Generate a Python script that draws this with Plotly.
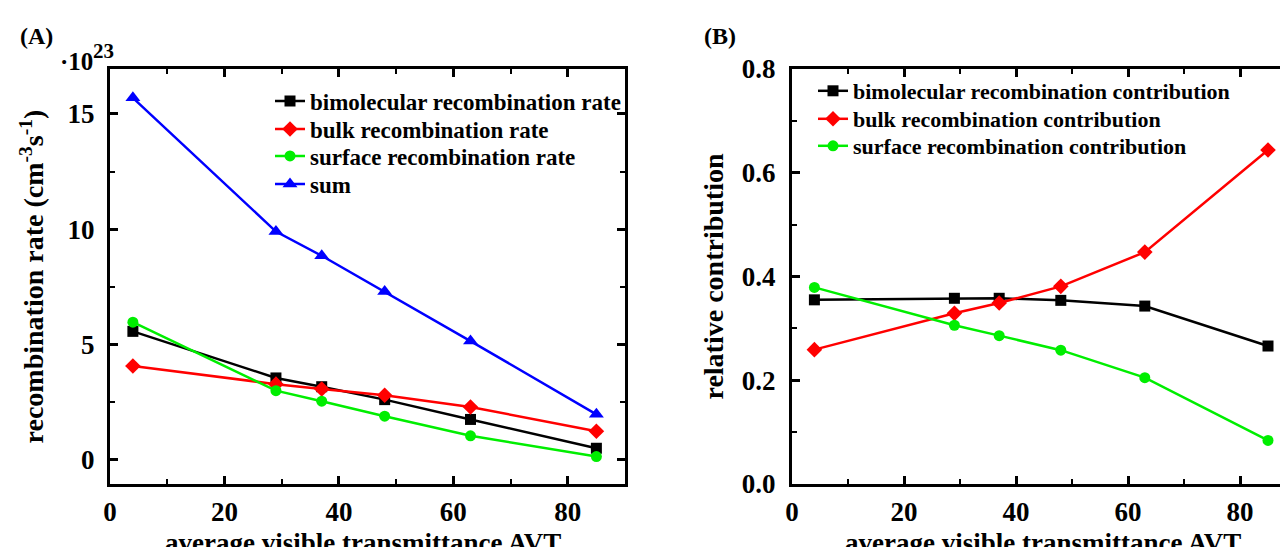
import plotly.graph_objects as go

# ---- data ----
avt = [4, 29, 37, 48, 63, 85]
bimol_rate = [5.57, 3.55, 3.17, 2.61, 1.75, 0.50]
bulk_rate = [4.07, 3.28, 3.07, 2.80, 2.29, 1.24]
surface_rate = [5.97, 3.00, 2.54, 1.89, 1.04, 0.14]
sum_rate = [15.70, 9.90, 8.85, 7.30, 5.15, 1.97]

bimol_frac = [0.355, 0.358, 0.358, 0.354, 0.343, 0.266]
bulk_frac = [0.259, 0.329, 0.349, 0.381, 0.447, 0.644]
surface_frac = [0.379, 0.306, 0.286, 0.258, 0.205, 0.084]

x_ticks = [0, 20, 40, 60, 80]
left_y_ticks = [0, 5, 10, 15]
right_y_ticks = [0.0, 0.2, 0.4, 0.6, 0.8]

x_title = "average visible transmittance AVT"

FONT = "Liberation Serif"
W, H = 1288, 547
MT, MB = 61, 71
PH = H - MT - MB  # plot-area height in px


def py(p):
    """pixel row -> paper y (paper is the margin-inner area)"""
    return 1 - (p - MT) / PH


fig = go.Figure()

legend_layout = {}


def add(x, y, name, color, symbol, size, xa, ya, leg_id, lx, ly, fs):
    fig.add_trace(go.Scatter(
        x=x, y=y, name=name, mode="lines+markers",
        line=dict(color=color, width=2.5),
        marker=dict(color=color, symbol=symbol, size=size),
        xaxis=xa, yaxis=ya, legend=leg_id))
    legend_layout[leg_id] = dict(x=lx / W, y=py(ly), xanchor="left", yanchor="middle",
                                 bgcolor="rgba(0,0,0,0)", borderwidth=0,
                                 font=dict(family=FONT, size=fs, color="black", weight="bold"))


add(avt, bimol_rate, "bimolecular recombination rate", "#000000", "square", 11, "x", "y", "legend", 262, 93, 23)
add(avt, bulk_rate, "bulk recombination rate", "#ff0000", "diamond", 12, "x", "y", "legend2", 262, 121, 23)
add(avt, surface_rate, "surface recombination rate", "#00ee00", "circle", 11, "x", "y", "legend3", 262, 148, 23)
add(avt, sum_rate, "sum", "#0000ff", "triangle-up", 13, "x", "y", "legend4", 262, 176, 23)

add(avt, bimol_frac, "bimolecular recombination contribution", "#000000", "square", 11, "x2", "y2", "legend5", 805, 83, 22)
add(avt, bulk_frac, "bulk recombination contribution", "#ff0000", "diamond", 12, "x2", "y2", "legend6", 805, 111, 22)
add(avt, surface_frac, "surface recombination contribution", "#00ee00", "circle", 11, "x2", "y2", "legend7", 805, 138, 22)

tickfont = dict(family=FONT, size=27, color="black", weight="bold")
xtitlefont = dict(family=FONT, size=27, color="black", weight="bold")
ytitlefont = dict(family=FONT, size=28, color="black", weight="bold")

axis_common = dict(showline=True, linecolor="black", linewidth=3, mirror="ticks",
                   ticks="inside", ticklen=8, tickwidth=2.5, tickcolor="black",
                   showgrid=False, zeroline=False, tickfont=tickfont, automargin=False)

L0, L1 = 102 / W, 617 / W
R0, R1 = 784 / W, 1.0

fig.update_layout(
    width=W, height=H,
    margin=dict(l=0, r=0, t=MT, b=MB),
    paper_bgcolor="white", plot_bgcolor="white",
    showlegend=True,
    xaxis=dict(domain=[L0, L1], range=[0, 90], tickvals=x_ticks, anchor="y", ticklabelstandoff=2,
               minor=dict(ticks="inside", ticklen=5, tickwidth=2, dtick=10, tick0=0, tickcolor="black"),
               **axis_common),
    yaxis=dict(domain=[0, 1], range=[-1.05, 16.95], tickvals=left_y_ticks, anchor="x", ticklabelstandoff=7,
               minor=dict(ticks="inside", ticklen=5, tickwidth=2, dtick=2.5, tick0=0, tickcolor="black"),
               title=dict(text="recombination rate (cm<sup>-3</sup>s<sup>-1</sup>)", font=ytitlefont, standoff=16),
               **axis_common),
    xaxis2=dict(domain=[R0, R1], range=[0, 90], tickvals=x_ticks, anchor="y2", ticklabelstandoff=2,
                minor=dict(ticks="inside", ticklen=5, tickwidth=2, dtick=10, tick0=0, tickcolor="black"),
                **axis_common),
    yaxis2=dict(domain=[0, 1], range=[0, 0.8], tickvals=right_y_ticks, tickformat=".1f", anchor="x2",
                ticklabelstandoff=8,
                minor=dict(ticks="inside", ticklen=5, tickwidth=2, dtick=0.1, tick0=0, tickcolor="black"),
                title=dict(text="relative contribution", font=ytitlefont, standoff=11),
                **axis_common),
    annotations=[
        dict(text=x_title, x=355 / W, y=py(535), xref="paper", yref="paper",
             xanchor="center", yanchor="middle", showarrow=False, font=xtitlefont),
        dict(text=x_title, x=1035 / W, y=py(535), xref="paper", yref="paper",
             xanchor="center", yanchor="middle", showarrow=False, font=xtitlefont),
        dict(text="(A)", x=10 / W, y=py(28), xref="paper", yref="paper",
             xanchor="left", yanchor="middle", showarrow=False,
             font=dict(family=FONT, size=24, color="black", weight="bold")),
        dict(text="(B)", x=694 / W, y=py(28), xref="paper", yref="paper",
             xanchor="left", yanchor="middle", showarrow=False,
             font=dict(family=FONT, size=24, color="black", weight="bold")),
        dict(text="·10", x=50 / W, y=py(53), xref="paper", yref="paper",
             xanchor="left", yanchor="middle", showarrow=False,
             font=dict(family=FONT, size=25, color="black", weight="bold")),
        dict(text="23", x=83 / W, y=py(43), xref="paper", yref="paper",
             xanchor="left", yanchor="middle", showarrow=False,
             font=dict(family=FONT, size=21, color="black", weight="bold")),
    ],
    **legend_layout,
)

fig.write_html("out.html")
